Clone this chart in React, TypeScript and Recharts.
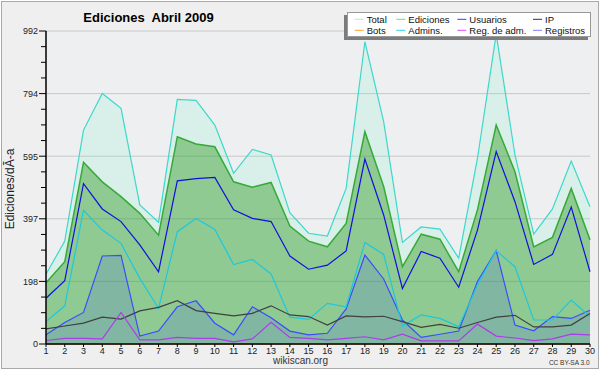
import React from "react";
import {
  ComposedChart,
  Area,
  Line,
  XAxis,
  YAxis,
  CartesianGrid,
  Legend,
  Customized,
} from "recharts";

const days = [1, 2, 3, 4, 5, 6, 7, 8, 9, 10, 11, 12, 13, 14, 15, 16, 17, 18, 19, 20, 21, 22, 23, 24, 25, 26, 27, 28, 29, 30];
const total = [221, 326, 678, 794, 747, 441, 386, 775, 772, 694, 541, 617, 599, 416, 351, 342, 493, 958, 705, 322, 371, 364, 272, 588, 982, 599, 348, 428, 580, 435];
const ediciones = [194, 261, 576, 514, 467, 414, 345, 657, 634, 625, 514, 497, 512, 374, 326, 308, 382, 673, 499, 245, 348, 332, 229, 425, 694, 546, 308, 338, 493, 330];
const usuarios = [145, 201, 508, 428, 388, 314, 229, 517, 524, 528, 425, 398, 388, 279, 237, 250, 295, 586, 409, 176, 293, 272, 180, 361, 610, 451, 252, 284, 434, 229];
const ip = [48, 57, 66, 85, 79, 105, 116, 137, 106, 97, 89, 97, 121, 92, 87, 60, 89, 86, 88, 71, 53, 62, 50, 68, 85, 91, 54, 54, 60, 97];
const bots = [0, 0, 0, 0, 0, 0, 0, 0, 0, 0, 0, 0, 0, 0, 0, 0, 0, 0, 0, 0, 0, 0, 0, 0, 0, 0, 0, 0, 0, 0];
const admins = [71, 121, 424, 361, 319, 208, 113, 356, 398, 363, 252, 268, 222, 85, 78, 129, 118, 322, 284, 57, 92, 81, 55, 187, 296, 245, 76, 76, 139, 87];
const regAdm = [11, 18, 18, 16, 100, 13, 13, 21, 18, 18, 7, 16, 69, 21, 18, 13, 18, 23, 13, 31, 10, 10, 10, 63, 25, 19, 11, 16, 31, 29];
const registros = [29, 68, 100, 279, 281, 25, 41, 118, 137, 66, 29, 118, 83, 41, 29, 34, 111, 282, 206, 76, 21, 31, 41, 198, 296, 60, 42, 87, 81, 107];

const yTicks = [0, 49.6, 99.2, 148.8, 198.4, 248, 297.6, 347.2, 396.8, 446.4, 496, 545.6, 595.2, 644.8, 694.4, 744, 793.6, 843.2, 892.8, 942.4, 992];
const yMajor = [0, 198.4, 396.8, 595.2, 793.6, 992];

const legendNames = ["Total", "Ediciones", "Usuarios", "IP", "Bots", "Admins.", "Reg. de adm.", "Registros"];
const legendColors = ["#a8ece6", "#7ed67e", "#3a3aee", "#333333", "#ffa030", "#2ed0e6", "#de4cf2", "#7c7cff"];

const data = days.map((day, i) => ({
  day,
  total: total[i],
  ediciones: ediciones[i],
  usuarios: usuarios[i],
  ip: ip[i],
  bots: bots[i],
  admins: admins[i],
  regAdm: regAdm[i],
  registros: registros[i],
}));

const FONT = "'Liberation Sans', Arial, sans-serif";

function YTick(props: any) {
  const { x, y, payload, index } = props;
  const major = index % 4 === 0;
  return (
    <g>
      <line x1={x - (major ? 7 : 5)} x2={x} y1={y} y2={y} stroke="#000" />
      {major && (
        <text x={x - 8} y={y} dy={3.3} textAnchor="end" fontSize={9} fill="#222">
          {Math.round(payload.value)}
        </text>
      )}
    </g>
  );
}

function XTick(props: any) {
  const { x, y, payload } = props;
  return (
    <g>
      <line x1={x} x2={x} y1={y} y2={y + 3} stroke="#000" />
      <text x={x} y={y + 9.5} textAnchor="middle" fontSize={9} fill="#222">
        {payload.value}
      </text>
    </g>
  );
}

const legendCols = [18.7, 60.3, 121.3, 197];

function LegendBox() {
  return (
    <div
      style={{
        width: 244,
        height: 25,
        boxSizing: "border-box",
        background: "#fff",
        border: "1px solid #999",
        boxShadow: "-3px 3px 0 #7c7c7c",
      }}
    >
      <svg width={242} height={23} style={{ display: "block", fontFamily: FONT }}>
        {legendNames.map((name, i) => {
          const tx = legendCols[i % 4];
          const row = Math.floor(i / 4);
          const base = row ? 20.6 : 9.6;
          return (
            <g key={name}>
              <line x1={tx - 12} x2={tx - 3} y1={base - 3.3} y2={base - 3.3} stroke={legendColors[i]} />
              <text x={tx} y={base} fontSize={9.5} fill="#111">
                {name}
              </text>
            </g>
          );
        })}
      </svg>
    </div>
  );
}

function Titles() {
  return (
    <g style={{ fontFamily: FONT }}>
      <text x={148.5} y={21.5} textAnchor="middle" fontSize={13} fontWeight="bold" fill="#000" xmlSpace="preserve" style={{ whiteSpace: "pre" }}>
        {"Ediciones  Abril 2009"}
      </text>
      <text x={10} y={189} transform="rotate(-90 10 189)" textAnchor="middle" dy={4} fontSize={12} fill="#222">
        Ediciones/dÃ-a
      </text>
      <text x={300.5} y={364} textAnchor="middle" fontSize={10} fill="#333">
        wikiscan.org
      </text>
      <text x={589.5} y={364.5} textAnchor="end" fontSize={6.5} fill="#333">
        CC BY-SA 3.0
      </text>
    </g>
  );
}

export default function App() {
  return (
    <div style={{ position: "absolute", left: 0, top: 0, width: 600, height: 370, background: "#fff", fontFamily: FONT }}>
      <div
        style={{
          position: "absolute",
          left: 1,
          top: 1,
          width: 596,
          height: 366,
          border: "1px solid #a9a9a9",
          background: "#efefef",
        }}
      />
      <div style={{ position: "absolute", left: 0, top: 0 }}>
        <ComposedChart
          width={600}
          height={370}
          data={data}
          margin={{ top: 31, right: 10, bottom: 0, left: 0 }}
          style={{ fontFamily: FONT }}
        >
          <CartesianGrid
            vertical={false}
            fill="#eeeff1"
            stroke="#c8c8c8"
            horizontalValues={yMajor}
          />
          <XAxis
            dataKey="day"
            type="number"
            domain={[1, 30]}
            ticks={days}
            interval={0}
            height={26}
            tickSize={0}
            tickMargin={0}
            tickLine={false}
            tick={<XTick />}
            axisLine={{ stroke: "#000", strokeWidth: 1.5 }}
          />
          <YAxis
            domain={[0, 992]}
            ticks={yTicks}
            interval={0}
            width={46}
            tickSize={0}
            tickMargin={0}
            tickLine={false}
            tick={<YTick />}
            axisLine={{ stroke: "#000", strokeWidth: 1.5 }}
          />
          <Area
            type="linear"
            dataKey="total"
            stroke="#3dd8ca"
            strokeWidth={1.2}
            fill="#5ff6bf"
            fillOpacity={0.14}
            isAnimationActive={false}
          />
          <Area
            type="linear"
            dataKey="ediciones"
            stroke="#36aa36"
            strokeWidth={1.5}
            fill="#369c2b"
            fillOpacity={0.45}
            isAnimationActive={false}
          />
          <Area
            type="linear"
            dataKey="registros"
            stroke="#3a4cff"
            strokeWidth={1.2}
            fill="#3344ff"
            fillOpacity={0.15}
            isAnimationActive={false}
          />
          <Line type="linear" dataKey="admins" stroke="#1ec8dc" strokeWidth={1.2} dot={false} isAnimationActive={false} />
          <Line type="linear" dataKey="ip" stroke="#404040" strokeWidth={1.2} dot={false} isAnimationActive={false} />
          <Line type="linear" dataKey="regAdm" stroke="#aa3ee8" strokeWidth={1.2} dot={false} isAnimationActive={false} />
          <Line type="linear" dataKey="bots" stroke="#ff9922" strokeWidth={1} dot={false} isAnimationActive={false} />
          <Line type="linear" dataKey="usuarios" stroke="#1010dd" strokeWidth={1.2} dot={false} isAnimationActive={false} />
          <Legend
            layout="horizontal"
            verticalAlign="middle"
            align="center"
            content={<LegendBox />}
            wrapperStyle={{ position: "absolute", left: 347, top: 12, width: 244, height: 25 }}
          />
          <Customized component={<Titles />} />
        </ComposedChart>
      </div>
    </div>
  );
}
